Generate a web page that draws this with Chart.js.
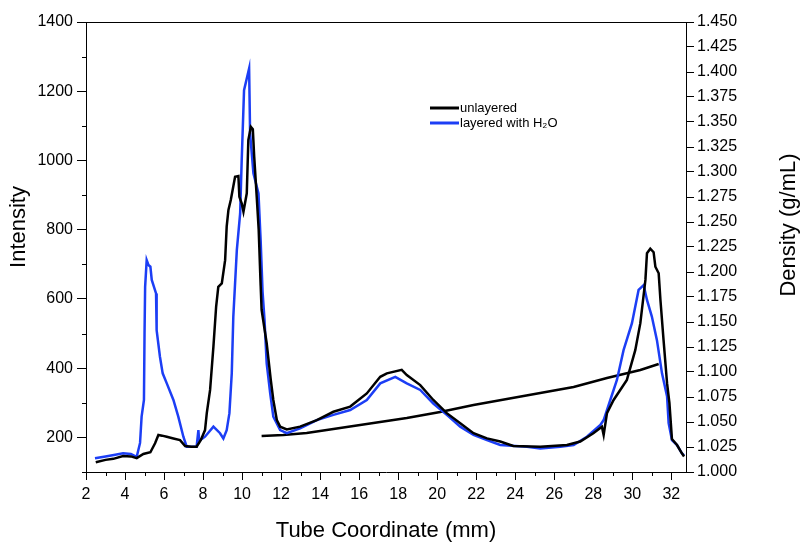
<!DOCTYPE html>
<html lang="en">
<head>
  <meta charset="UTF-8">
  <title>Intensity and density vs tube coordinate</title>
  <style>
    body { margin: 0; padding: 0; background: #fff; }
    #chart { display: block; }
  </style>
</head>
<body>
  <canvas id="chart" width="804" height="542"></canvas>

  <script src="https://cdn.jsdelivr.net/npm/chart.js"></script>
  <script>
    // Tick labels
    var xTicks = [2, 4, 6, 8, 10, 12, 14, 16, 18, 20, 22, 24, 26, 28, 30, 32];
    var intensityTicks = [200, 400, 600, 800, 1000, 1200, 1400];
    var densityTicks = [1.000, 1.025, 1.050, 1.075, 1.100, 1.125, 1.150, 1.175, 1.200, 1.225,
                        1.250, 1.275, 1.300, 1.325, 1.350, 1.375, 1.400, 1.425, 1.450];

    // unlayered (black)
    var unlayeredX = [2.5, 3.0, 3.4, 3.9, 4.3, 4.6, 4.94, 5.3, 5.54, 5.71, 5.9, 6.14, 6.48, 6.82, 7.08, 7.4, 7.67,
                      7.88, 8.1, 8.19, 8.36, 8.53, 8.67, 8.78, 8.96, 9.13, 9.21, 9.3, 9.42, 9.64, 9.81, 9.86, 9.98,
                      10.07, 10.24, 10.32, 10.45, 10.55, 10.62, 10.75, 10.85, 10.95, 11.0, 11.26, 11.47, 11.6,
                      11.78, 11.95, 12.29, 12.97, 13.83, 14.68, 15.54, 16.39, 17.08, 17.42, 18.18, 18.44, 19.13,
                      19.8, 20.49, 21.18, 21.86, 22.55, 23.23, 23.9, 25.28, 26.65, 27.33, 28.0, 28.44, 28.53,
                      28.7, 29.04, 29.72, 30.15, 30.41, 30.67, 30.75, 30.92, 31.09, 31.18, 31.35, 31.44, 31.6,
                      31.78, 31.9, 32.03, 32.29, 32.54, 32.65];
    var unlayeredY = [128, 135, 138, 146, 145, 140, 152, 157, 183, 207, 205, 202, 197, 192, 175, 173, 173,
                      192, 221, 270, 337, 462, 578, 635, 645, 712, 809, 857, 886, 953, 955, 895, 876,
                      852, 905, 1059, 1097, 1090, 1011, 895, 800, 640, 568, 472, 366, 308,
                      250, 231, 223, 231, 250, 274, 289, 327, 375, 385, 395, 380, 351,
                      308, 270, 241, 212, 197, 188, 175, 173, 178, 188, 212, 231, 207,
                      270, 308, 366, 452, 530, 655, 732, 745, 735, 693, 674, 597, 481,
                      356, 300, 195, 178, 154, 145];

    // layered with H2O (blue)
    var layeredX = [2.46, 3.0, 3.5, 3.9, 4.3, 4.6, 4.77, 4.85, 4.97, 5.0, 5.03, 5.11, 5.2, 5.3, 5.37, 5.59, 5.62,
                    5.79, 5.93, 6.14, 6.48, 6.73, 6.99, 7.16, 7.67, 7.76, 7.8, 8.1, 8.53, 8.87, 9.04, 9.21, 9.35,
                    9.47, 9.55, 9.73, 9.9, 9.98, 10.1, 10.36, 10.41, 10.58, 10.84, 10.95, 11.05, 11.15, 11.26,
                    11.44, 11.6, 11.95, 12.29, 12.97, 13.83, 14.68, 15.54, 16.39, 17.08, 17.85, 18.44, 19.13,
                    19.8, 20.49, 21.18, 21.86, 22.55, 23.23, 24.6, 25.28, 26.31, 26.99, 27.67, 28.36, 28.53,
                    28.87, 29.21, 29.55, 29.98, 30.32, 30.58, 30.75, 31.0, 31.26, 31.52, 31.78, 31.86, 32.03,
                    32.29, 32.54, 32.65];
    var layeredY = [140, 145, 150, 154, 152, 144, 184, 260, 308, 500, 635, 712, 698, 693, 655, 616, 510,
                    433, 385, 356, 308, 260, 202, 173, 173, 221, 190, 202, 231, 212, 197, 221, 270,
                    385, 549, 741, 847, 1001, 1203, 1266, 1078, 963, 905, 770, 620, 539, 414,
                    327, 260, 221, 212, 226, 250, 265, 279, 308, 356, 375, 356, 337,
                    298, 265, 231, 207, 192, 178, 173, 168, 173, 178, 202, 236, 250,
                    308, 366, 452, 530, 626, 640, 597, 549, 481, 385, 318, 241, 192,
                    178, 154, 148];

    // density (right axis)
    var densityX = [11.0, 12.11, 13.31, 14.68, 16.73, 18.44, 20.15, 21.86, 23.57, 25.28, 26.99, 28.7, 30.41, 31.35];
    var densityY = [1.036, 1.037, 1.039, 1.043, 1.049, 1.054, 1.060, 1.067, 1.073, 1.079, 1.085, 1.094, 1.102, 1.108];

    function toPoints(xs, ys) {
      return xs.map(function(x, i) { return { x: x, y: ys[i] }; });
    }

    var black = '#000000';
    var blue = '#1c3ef5';
    var fontFamily = '"Liberation Sans", Arial, sans-serif';

    Chart.defaults.font.family = fontFamily;
    Chart.defaults.color = '#000';

    // minor ticks, top border, legend and vertical axis titles
    var extras = {
      id: 'extras',
      afterDraw: function(chart) {
        var ctx = chart.ctx;
        var area = chart.chartArea;
        var xs = chart.scales.x;
        var ys = chart.scales.y;
        ctx.save();
        ctx.strokeStyle = black;
        ctx.lineWidth = 1;
        ctx.beginPath();
        ctx.moveTo(area.left, area.top + 0.5);
        ctx.lineTo(area.right, area.top + 0.5);
        for (var v = 3; v < xs.max; v += 2) {
          var px = Math.round(xs.getPixelForValue(v)) + 0.5;
          ctx.moveTo(px, area.bottom);
          ctx.lineTo(px, area.bottom + 4);
        }
        for (var w = 100; w < ys.max; w += 200) {
          var py = Math.round(ys.getPixelForValue(w)) + 0.5;
          ctx.moveTo(area.left - 4, py);
          ctx.lineTo(area.left, py);
        }
        ctx.stroke();

        // legend
        var entries = chart.data.datasets.slice(0, 2);
        ctx.font = '13px ' + fontFamily;
        ctx.textBaseline = 'middle';
        ctx.textAlign = 'left';
        entries.forEach(function(ds, i) {
          var y = 108 + i * 15;
          ctx.strokeStyle = ds.borderColor;
          ctx.lineWidth = 3;
          ctx.beginPath();
          ctx.moveTo(430, y);
          ctx.lineTo(459, y);
          ctx.stroke();
          ctx.fillStyle = '#000';
          ctx.fillText(ds.label, 460, y);
        });

        // vertical titles
        ctx.font = '22px ' + fontFamily;
        ctx.textAlign = 'center';
        ctx.textBaseline = 'middle';
        ctx.fillStyle = '#000';
        ctx.translate(19, 227);
        ctx.rotate(-Math.PI / 2);
        ctx.fillText('Intensity', 0, 0);
        ctx.setTransform(1, 0, 0, 1, 0, 0);
        ctx.translate(789, 225);
        ctx.rotate(-Math.PI / 2);
        ctx.fillText('Density (g/mL)', 0, 0);
        ctx.restore();
      }
    };

    new Chart(document.getElementById('chart'), {
      type: 'line',
      data: {
        datasets: [
          {
            label: 'unlayered',
            data: toPoints(unlayeredX, unlayeredY),
            borderColor: black,
            borderWidth: 2.5,
            pointRadius: 0,
            yAxisID: 'y'
          },
          {
            label: 'layered with H\u2082O',
            data: toPoints(layeredX, layeredY),
            borderColor: blue,
            borderWidth: 2.5,
            pointRadius: 0,
            yAxisID: 'y'
          },
          {
            label: 'density',
            data: toPoints(densityX, densityY),
            borderColor: black,
            borderWidth: 2.5,
            pointRadius: 0,
            yAxisID: 'y2'
          }
        ]
      },
      options: {
        responsive: false,
        animation: false,
        events: [],
        layout: { padding: { top: 22, left: 0, right: 0, bottom: 0 } },
        plugins: {
          legend: { display: false },
          tooltip: { enabled: false }
        },
        scales: {
          x: {
            type: 'linear',
            min: 2,
            max: 32.75,
            afterBuildTicks: function(s) { s.ticks = xTicks.map(function(v) { return { value: v }; }); },
            afterFit: function(s) { s.height = 70; },
            grid: { drawOnChartArea: false, color: black, tickLength: 8 },
            border: { color: black, width: 1 },
            ticks: {
              font: { size: 16 },
              padding: 5,
              maxRotation: 0,
              autoSkip: false,
              callback: function(v) { return String(v); }
            },
            title: {
              display: true,
              text: 'Tube Coordinate (mm)',
              font: { size: 22, lineHeight: 1 },
              padding: { top: 0, bottom: 0 }
            }
          },
          y: {
            position: 'left',
            min: 100,
            max: 1400,
            afterBuildTicks: function(s) { s.ticks = intensityTicks.map(function(v) { return { value: v }; }); },
            afterFit: function(s) { s.width = 86; },
            grid: { drawOnChartArea: false, color: black, tickLength: 9 },
            border: { color: black, width: 1 },
            ticks: {
              font: { size: 16 },
              padding: 4,
              callback: function(v) { return String(v); }
            }
          },
          y2: {
            position: 'right',
            min: 1.0,
            max: 1.45,
            afterBuildTicks: function(s) { s.ticks = densityTicks.map(function(v) { return { value: v }; }); },
            afterFit: function(s) { s.width = 118; },
            grid: { drawOnChartArea: false, color: black, tickLength: 8 },
            border: { color: black, width: 1 },
            ticks: {
              font: { size: 16 },
              padding: 3,
              autoSkip: false,
              callback: function(v) { return Number(v).toFixed(3); }
            }
          }
        }
      },
      plugins: [extras]
    });
  </script>
</body>
</html>
